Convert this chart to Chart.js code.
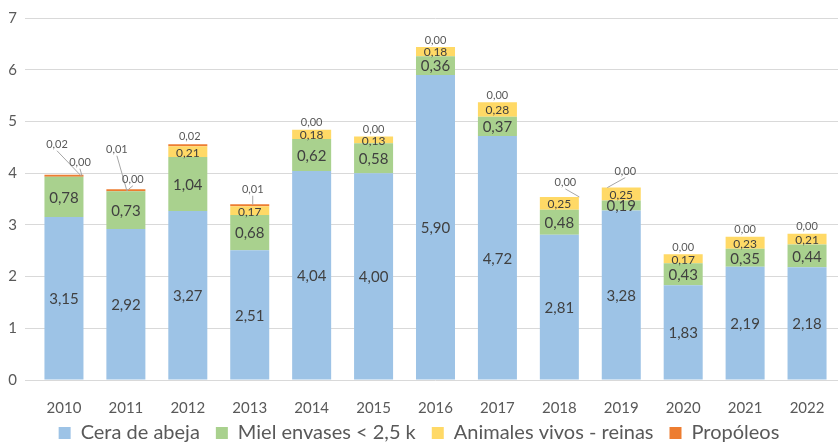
<!DOCTYPE html>
<html>
<head>
<meta charset="utf-8">
<script src="https://cdn.jsdelivr.net/npm/chart.js@4"></script>
<style>
  html, body { margin: 0; padding: 0; background: #fff; }
  #wrap { width: 838px; height: 444px; }
</style>
</head>
<body>
<div id="wrap"><canvas id="chart"></canvas></div>
<script>
// data
const years = ['2010', '2011', '2012', '2013', '2014', '2015', '2016', '2017', '2018', '2019', '2020', '2021', '2022'];
const cera = [3.15, 2.92, 3.27, 2.51, 4.04, 4.00, 5.90, 4.72, 2.81, 3.28, 1.83, 2.19, 2.18];
const miel = [0.78, 0.73, 1.04, 0.68, 0.62, 0.58, 0.36, 0.37, 0.48, 0.19, 0.43, 0.35, 0.44];
const animales = [0.00, 0.00, 0.21, 0.17, 0.18, 0.13, 0.18, 0.28, 0.25, 0.25, 0.17, 0.23, 0.21];
const propoleos = [0.02, 0.01, 0.02, 0.01, 0.00, 0.00, 0.00, 0.00, 0.00, 0.00, 0.00, 0.00, 0.00];
const yTicks = [0, 1, 2, 3, 4, 5, 6, 7];

// where the small labels above the bars sit (offset from bar top centre, px)
// line: end point of the leader line, also relative to bar top centre
const topPlace = [
  { dx: -7, dy: -31, line: [17, 0] },
  { dx: -9, dy: -41, line: [1, 0] },
  { dx: 2, dy: -9 },
  { dx: 3, dy: -16, line: [3, -1] },
  { dx: 0, dy: -7 },
  { dx: 0, dy: -7 },
  { dx: 0, dy: -7 },
  { dx: 0, dy: -7 },
  { dx: 6, dy: -14, line: [20, 0] },
  { dx: 4, dy: -16, line: [-14, 0] },
  { dx: 0, dy: -7 },
  { dx: 0, dy: -7 },
  { dx: 0, dy: -7 }
];
// zero yellow segments labelled outside the bar
const yellowOut = { 0: { dx: 16, dy: -13, line: [18, 0] }, 1: { dx: 7, dy: -11, line: [1, 0] } };

const fmt = v => v.toFixed(2).replace('.', ',');

const labelPlugin = {
  id: 'segLabels',
  beforeInit(chart) {
    // keep the gaps between legend items but sit it closer to the bottom edge
    const legend = chart.legend;
    const fit = legend.fit;
    legend.fit = function () {
      fit.call(this);
      this.height -= 19;
    };
    const draw = legend.draw;
    legend.draw = function () {
      this.top -= 10;
      draw.call(this);
      this.top += 10;
    };
  },
  afterDatasetsDraw(chart) {
    const ctx = chart.ctx;
    ctx.save();
    ctx.textAlign = 'center';
    ctx.textBaseline = 'middle';
    const fonts = ['15px Lato', '15px Lato', '12px Lato'];
    for (let d = 0; d < 3; d++) {
      const meta = chart.getDatasetMeta(d);
      const vals = chart.data.datasets[d].data;
      meta.data.forEach((bar, i) => {
        if (vals[i] < 0.1) return;
        ctx.font = fonts[d];
        ctx.fillStyle = '#404040';
        ctx.fillText(fmt(vals[i]), bar.x, (bar.y + bar.base) / 2 + 1);
      });
    }
    // labels above the bar
    const baseMeta = chart.getDatasetMeta(0);
    const yScale = chart.scales.y;
    ctx.font = '11px Lato';
    const drawOut = (x, top, place, txt) => {
      const lx = x + place.dx, ly = top + place.dy;
      if (place.line) {
        ctx.strokeStyle = '#a6a6a6';
        ctx.lineWidth = 1;
        ctx.beginPath();
        ctx.moveTo(lx, ly + 6);
        ctx.lineTo(x + place.line[0], top + place.line[1]);
        ctx.stroke();
      }
      ctx.fillStyle = '#595959';
      ctx.fillText(txt, lx, ly);
    };
    baseMeta.data.forEach((bar, i) => {
      const total = cera[i] + miel[i] + animales[i] + propoleos[i];
      const top = yScale.getPixelForValue(total);
      drawOut(bar.x, top, topPlace[i], fmt(propoleos[i]));
      if (yellowOut[i]) drawOut(bar.x, top, yellowOut[i], fmt(animales[i]));
    });
    ctx.restore();
  }
};

const barOpts = { barPercentage: 0.63, categoryPercentage: 1 };

new Chart(document.getElementById('chart').getContext('2d'), {
  type: 'bar',
  data: {
    labels: years,
    datasets: [
      { label: 'Cera de abeja', data: cera, backgroundColor: '#9dc3e6', ...barOpts },
      { label: 'Miel envases < 2,5 k', data: miel, backgroundColor: '#a9d18e', ...barOpts },
      { label: 'Animales vivos - reinas', data: animales, backgroundColor: '#ffd966', ...barOpts },
      { label: 'Propóleos', data: propoleos.map(v => v || null), backgroundColor: '#ed7d31', minBarLength: 2, ...barOpts }
    ]
  },
  options: {
    responsive: true,
    maintainAspectRatio: false,
    animation: false,
    layout: { padding: 0 },
    plugins: {
      legend: {
        position: 'bottom',
        labels: { color: '#595959', font: { family: 'Lato', size: 20 }, boxWidth: 12, boxHeight: 12, padding: 16 }
      },
      tooltip: { enabled: false }
    },
    scales: {
      x: {
        stacked: true,
        grid: { display: false },
        border: { display: false },
        ticks: { color: '#595959', font: { family: 'Lato', size: 15 }, padding: 11 },
        afterFit: axis => { axis.height = 37; }
      },
      y: {
        stacked: true,
        min: 0,
        max: 7,
        afterBuildTicks: axis => { axis.ticks = yTicks.map(v => ({ value: v })); },
        afterFit: axis => { axis.paddingTop = 18; axis.width = 33; },
        grid: { color: '#d9d9d9' },
        border: { display: false },
        ticks: { color: '#595959', font: { family: 'Lato', size: 15 }, padding: 8 }
      }
    }
  },
  plugins: [labelPlugin]
});
</script>
</body>
</html>
